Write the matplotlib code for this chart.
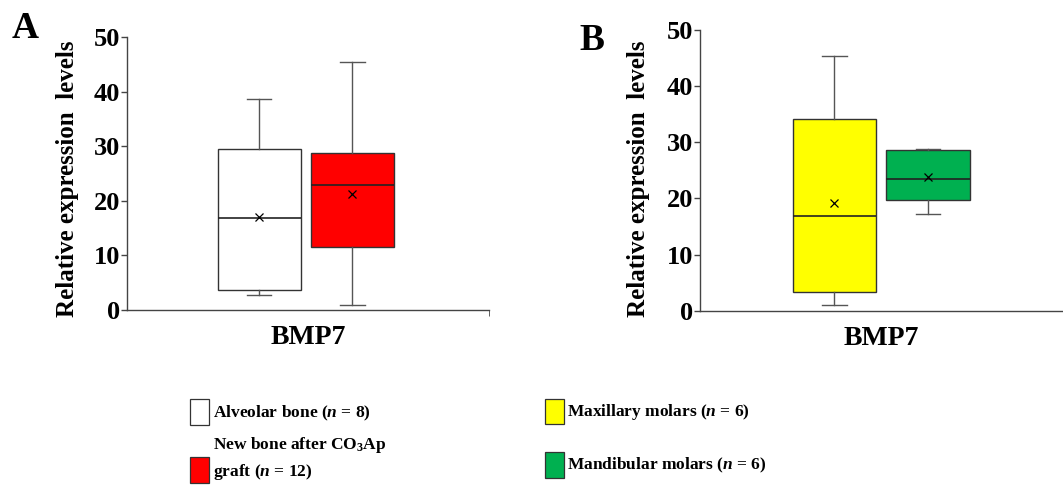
import matplotlib.pyplot as plt
from matplotlib.patches import Rectangle

plt.rcParams['font.family'] = ['Liberation Serif', 'DejaVu Serif']
plt.rcParams['font.weight'] = 'bold'
plt.rcParams['mathtext.fontset'] = 'custom'
plt.rcParams['mathtext.rm'] = 'Liberation Serif:bold'
plt.rcParams['mathtext.it'] = 'Liberation Serif:italic:bold'
plt.rcParams['mathtext.bf'] = 'Liberation Serif:bold'

# panel A : alveolar bone vs new bone after CO3Ap graft
a_labels = ["Alveolar bone ($n$ = 8)", "New bone after CO$_3$Ap", "graft ($n$ = 12)"]
a_colors = ["white", "#ff0000"]
a_lo = [2.7, 0.9]
a_q1 = [3.7, 11.6]
a_med = [16.8, 23.0]
a_q3 = [29.6, 28.7]
a_hi = [38.6, 45.5]
a_mean = [17.0, 21.3]

# panel B : maxillary vs mandibular molars
b_labels = ["Maxillary molars ($n$ = 6)", "Mandibular molars ($n$ = 6)"]
b_colors = ["#ffff00", "#00b050"]
b_lo = [1.1, 17.2]
b_q1 = [3.4, 19.8]
b_med = [16.8, 23.4]
b_q3 = [34.2, 28.7]
b_hi = [45.3, 28.8]
b_mean = [19.1, 23.8]

gene = "BMP7"
yticks = [0, 10, 20, 30, 40, 50]

W, H = 1063, 498
fig = plt.figure(figsize=(W / 100, H / 100), dpi=100)

def fx(px):
    return px / W

def fy(py):
    return 1 - py / H

def make_stats(lo, q1, med, q3, hi, mean):
    st = []
    for i in range(len(lo)):
        st.append(dict(whislo=lo[i], q1=q1[i], med=med[i], q3=q3[i],
                       whishi=hi[i], mean=mean[i], fliers=[]))
    return st

def panel(rect, lo, q1, med, q3, hi, mean, colors, positions, ylab_x, ylab_y, tick_end):
    ax = fig.add_axes(rect)
    st = make_stats(lo, q1, med, q3, hi, mean)
    bp = ax.bxp(st, positions=positions, widths=0.92, capwidths=0.27,
                patch_artist=True, showmeans=True, showfliers=False,
                boxprops=dict(edgecolor='#333333', linewidth=1.0),
                medianprops=dict(color='#222222', linewidth=1.2),
                whiskerprops=dict(color='#555555', linewidth=1.0),
                capprops=dict(color='#555555', linewidth=1.0),
                meanprops=dict(marker='x', markeredgecolor='black',
                               markersize=5.5, markeredgewidth=0.9))
    for p, c in zip(bp['boxes'], colors):
        p.set_facecolor(c)
    ax.set_xlim(0, 4)
    ax.set_ylim(0, 50)
    ax.set_yticks(yticks)
    ax.set_xticks([2])
    ax.set_xticklabels([gene], fontsize=20, fontweight='bold')
    ax.tick_params(axis='x', length=0, pad=11)
    ax.tick_params(axis='y', labelsize=19, length=4, width=1, pad=1, color='#444444')
    if tick_end:
        ax.set_xticks([4], minor=True)
        ax.tick_params(axis='x', which='minor', length=4, color='#444444')
    for s in ['top', 'right']:
        ax.spines[s].set_visible(False)
    for s in ['left', 'bottom']:
        ax.spines[s].set_color('#444444')
        ax.spines[s].set_linewidth(1.0)
    ax.set_ylabel("Relative expression  levels", fontsize=18, fontweight='bold')
    ax.yaxis.set_label_coords(ylab_x, ylab_y)
    return ax

axA = panel([fx(127), fy(310), fx(362), (310 - 37.3) / H],
            a_lo, a_q1, a_med, a_q3, a_hi, a_mean, a_colors, [1.46, 2.49], -0.132, 0.48, True)
axB = panel([fx(700), fy(310.7), fx(363), (310.7 - 30) / H],
            b_lo, b_q1, b_med, b_q3, b_hi, b_mean, b_colors, [1.48, 2.51], -0.137, 0.47, False)

# panel letters
fig.text(fx(25), fy(28), "A", fontsize=27, fontweight='bold', ha='center', va='center')
fig.text(fx(592), fy(41), "B", fontsize=27, fontweight='bold', ha='center', va='center')

# legends
def swatch(x, y, w, h, c):
    fig.add_artist(Rectangle((fx(x), fy(y + h)), w / W, h / H, transform=fig.transFigure,
                             facecolor=c, edgecolor='#333333', linewidth=0.9))

swatch(190, 399, 19, 26, a_colors[0])
swatch(190, 457, 19, 26, a_colors[1])
fig.text(fx(213), fy(413), a_labels[0], fontsize=12.5, va='center')
fig.text(fx(213), fy(445), a_labels[1], fontsize=12.5, va='center')
fig.text(fx(213), fy(472), a_labels[2], fontsize=12.5, va='center')

swatch(545, 399, 19, 25, b_colors[0])
swatch(545, 452, 19, 26, b_colors[1])
fig.text(fx(567), fy(412), b_labels[0], fontsize=12.5, va='center')
fig.text(fx(567), fy(465), b_labels[1], fontsize=12.5, va='center')

fig.savefig("out.png", dpi=100)
